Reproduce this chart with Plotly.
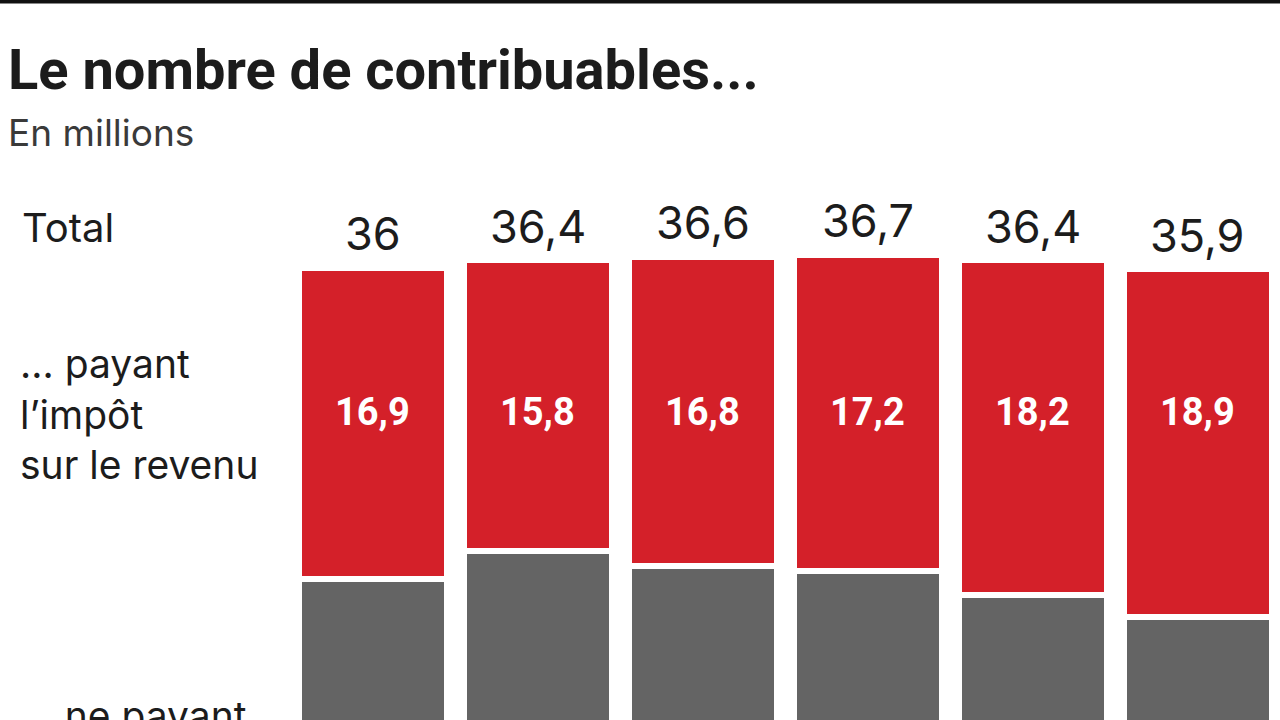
import plotly.graph_objects as go

# Data (millions)
categories = ["A1", "A2", "A3", "A4", "A5", "A6"]
totals = [36.0, 36.4, 36.6, 36.7, 36.4, 35.9]
payant = [16.9, 15.8, 16.8, 17.2, 18.2, 18.9]
non_payant = [19.1, 20.6, 19.8, 19.5, 18.2, 17.0]

RED = "#d42029"
GRAY = "#646464"
TXT = "#1c1c1c"
FONT = "Roboto"
FONT2 = "Inter"

W, H = 1280, 720
ML, MR, MT, MB = 290, 0, 190, 0
PW, PH = W - ML - MR, H - MT - MB


def fmt(v):
    s = f"{v:.1f}"
    if s.endswith(".0"):
        s = s[:-2]
    return s.replace(".", ",")


def py(p):
    return (H - p) / PH


def pxx(p):
    return (p - ML) / PW


x_idx = list(range(len(categories)))

fig = go.Figure()
fig.add_trace(go.Bar(x=x_idx, y=non_payant, marker=dict(color=GRAY, line=dict(color="white", width=6)),
                     hoverinfo="skip", name="ne payant"))
fig.add_trace(go.Bar(x=x_idx, y=payant, marker=dict(color=RED, line=dict(color="white", width=6)),
                     hoverinfo="skip", name="payant"))

ann = []
for i, (t, p) in enumerate(zip(totals, payant)):
    ann.append(dict(x=i, y=t, xref="x", yref="y", text=fmt(t), showarrow=False,
                    yanchor="middle", yshift=34, font=dict(family=FONT2, size=45, color=TXT)))
    ann.append(dict(x=i, y=py(412), xref="x", yref="paper", text=f"<b>{fmt(p)}</b>", showarrow=False,
                    yanchor="middle", font=dict(family=FONT, size=38, color="white")))

ann += [
    dict(x=pxx(6), y=py(70), xref="paper", yref="paper", xanchor="left", yanchor="middle",
         text="<b>Le nombre de contribuables...</b>", showarrow=False,
         font=dict(family=FONT, size=56, color=TXT)),
    dict(x=pxx(6), y=py(132), xref="paper", yref="paper", xanchor="left", yanchor="middle",
         text="En millions", showarrow=False,
         font=dict(family=FONT2, size=37, color="#3a3a3a")),
    dict(x=pxx(20), y=py(227), xref="paper", yref="paper", xanchor="left", yanchor="middle",
         text="Total", showarrow=False, align="left",
         font=dict(family=FONT2, size=40, color=TXT)),
    dict(x=pxx(18), y=py(414), xref="paper", yref="paper", xanchor="left", yanchor="middle",
         text="… payant<br>l’impôt<br>sur le revenu", showarrow=False, align="left",
         font=dict(family=FONT2, size=39, color=TXT)),
    dict(x=pxx(18), y=py(690), xref="paper", yref="paper", xanchor="left", yanchor="top",
         text="… ne payant<br>pas l’impôt", showarrow=False, align="left",
         font=dict(family=FONT2, size=39, color=TXT)),
]

fig.update_layout(
    width=W, height=H,
    margin=dict(l=ML, r=MR, t=MT, b=MB),
    barmode="stack", bargap=17 / 165,
    plot_bgcolor="white", paper_bgcolor="white",
    showlegend=False,
    xaxis=dict(visible=False, range=[-0.5, 5.5]),
    yaxis=dict(visible=False, range=[(930 - 720) / 18.4, (930 - 190) / 18.4]),
    annotations=ann,
    shapes=[dict(type="line", xref="paper", yref="paper", x0=pxx(0), x1=1.0,
                 y0=py(1.5), y1=py(1.5), line=dict(color="#111111", width=4))],
)

fig.write_html("out.html", config={"displayModeBar": False},
               post_script="document.body.style.margin='0';document.body.style.overflow='hidden';")
